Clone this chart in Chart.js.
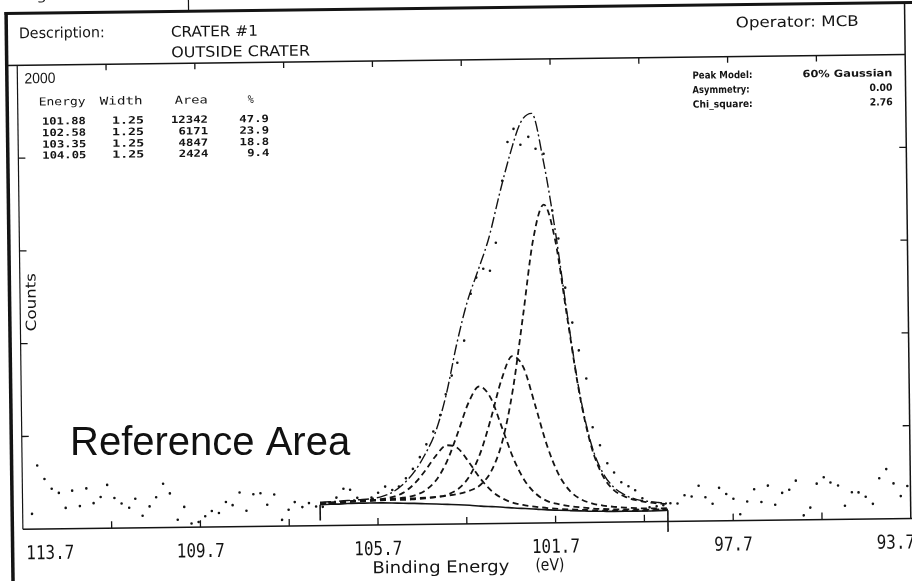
<!DOCTYPE html>
<html>
<head>
<meta charset="utf-8">
<script src="https://cdn.jsdelivr.net/npm/chart.js@4.4.1/dist/chart.umd.min.js"></script>
<style>
html, body { margin: 0; padding: 0; background: #fff; overflow: hidden; }
#wrap { width: 912px; height: 581px; }
</style>
</head>
<body>
<div id="wrap"><canvas id="xpsChart" width="912" height="581"></canvas></div>
<script>
// fitted curves on a shared energy grid (eV)
var energy = [107.00, 106.88, 106.63, 106.38, 106.13, 105.88, 105.63, 105.38, 105.13, 104.88,
  104.63, 104.38, 104.13, 103.88, 103.63, 103.38, 103.13, 102.88, 102.63, 102.38,
  102.13, 101.88, 101.63, 101.38, 101.13, 100.88, 100.63, 100.38, 100.13, 99.88,
  99.63, 99.38, 99.17];
var background = [90, 91, 92, 94, 95, 95, 95, 94, 92, 91, 89, 87, 85, 83, 80, 76, 73, 70, 66, 63,
  60, 56, 54, 52, 50, 48, 47, 46, 46, 46, 46, 47, 48];
var peak1 = [98, 99, 101, 104, 106, 107, 109, 110, 111, 113, 115, 118, 123, 130, 143, 168, 228, 352, 573, 891,
  1221, 1372, 1215, 880, 557, 330, 202, 138, 109, 93, 84, 78, 75];
var peak2 = [95, 96, 98, 101, 103, 104, 106, 107, 107, 109, 112, 117, 127, 152, 205, 303, 452, 620, 721, 670,
  509, 338, 213, 139, 101, 82, 72, 66, 62, 59, 57, 57, 57];
var peak3 = [96, 97, 99, 102, 105, 107, 109, 112, 116, 125, 146, 190, 271, 392, 522, 592, 542, 412, 278, 182,
  125, 94, 80, 71, 65, 60, 57, 55, 54, 53, 52, 52, 52];
var peak4 = [94, 96, 98, 101, 104, 106, 111, 119, 137, 174, 230, 295, 340, 326, 264, 194, 140, 107, 87, 77,
  70, 64, 60, 57, 55, 52, 50, 49, 49, 48, 48, 49, 50];
var envelope = [101, 102, 104, 107, 110, 113, 121, 139, 173, 225, 299, 398, 558, 775, 957, 1091, 1229, 1416, 1589, 1727,
  1766, 1563, 1260, 895, 565, 340, 215, 150, 116, 97, 88, 82, 78];

// end markers of the background region
var limitEnergy = [107.00, 99.17];
var limitLow = [22, -45];

// measured spectrum (dots)
var rawEnergy = [113.49, 113.36, 113.20, 113.04, 112.88, 112.73, 112.58, 112.41, 112.26, 112.10,
  111.94, 111.79, 111.63, 111.47, 111.30, 111.16, 111.00, 110.84, 110.69, 110.53,
  110.38, 110.21, 110.06, 109.90, 109.74, 109.59, 109.44, 109.28, 109.12, 108.97,
  108.81, 108.66, 108.50, 108.34, 108.19, 108.03, 107.86, 107.71, 107.57, 107.40,
  107.25, 107.09,
  106.94, 106.79, 106.63, 106.47, 106.32, 106.16, 106.00, 105.84, 105.69, 105.53,
  105.37, 105.22, 105.06, 104.90, 104.74, 104.59, 104.43, 104.27, 104.14, 104.00,
  103.87, 103.71, 103.55, 103.42, 103.26, 103.11, 102.97, 102.81, 102.68, 102.54,
  102.39, 102.21, 102.05, 101.87, 101.69, 101.56, 101.42, 101.27, 101.13, 100.97,
  100.84, 100.68, 100.52, 100.37, 100.21, 100.05, 99.90, 99.74, 99.58, 99.42,
  99.27, 99.11,
  98.95, 98.79, 98.63, 98.47, 98.32, 98.16, 98.01, 97.85, 97.69, 97.54,
  97.38, 97.22, 97.06, 96.91, 96.75, 96.59, 96.43, 96.28, 96.11, 95.96,
  95.81, 95.65, 95.50, 95.33, 95.18, 95.02, 94.87, 94.71, 94.55, 94.40,
  94.24, 94.08, 93.92, 93.77];
var rawCounts = [66, 274, 216, 173, 155, 90, 164, 97, 173, 109,
  135, 187, 130, 106, 87, 126, 52, 92, 131, 189,
  147, 33, 88, 16, 22, 47, 69, 60, 107, 93,
  147, 68, 139, 143, 93, 137, 27, 70, 103, 81,
  98, 83,
  81, 98, 120, 158, 153, 118, 105, 118, 139, 165,
  150, 165, 200, 240, 290, 345, 400, 470, 560, 640,
  695, 790, 992, 1061, 1099, 1090, 1210, 1477, 1644, 1700,
  1631, 1665, 1613, 1591, 1346, 1225, 1013, 862, 742, 620,
  410, 332, 254, 214, 171, 154, 136, 101, 62, 66,
  70, 78,
  77, 112, 106, 152, 102, 74, 142, 115, 94, 27,
  82, 134, 79, 149, 66, 117, 130, 169, 19, 52,
  155, 182, 159, 146, 58, 116, 115, 96, 65, 175,
  214, 152, 97, 140];

// fit table
var fitEnergy = ['101.88', '102.58', '103.35', '104.05'];
var fitWidth = ['1.25', '1.25', '1.25', '1.25'];
var fitArea = ['12342', '6171', '4847', '2424'];
var fitPercent = ['47.9', '23.9', '18.8', '9.4'];

// axes
var xLabelValues = [113.7, 109.7, 105.7, 101.7, 97.7, 93.7];
var xTickValues = [111.7, 109.7, 107.7, 105.7, 103.7, 101.7, 99.7, 97.7, 95.7];
var yTickValues = [400, 800, 1200, 1600];

var ink = '#141414';
var tilt = -0.7 * Math.PI / 180;

function pts(xs, ys) {
  return xs.map(function (x, i) { return { x: x, y: ys[i] }; });
}

function line(ctx, x1, y1, x2, y2, w) {
  ctx.beginPath();
  ctx.lineWidth = w || 1.2;
  ctx.moveTo(x1, y1);
  ctx.lineTo(x2, y2);
  ctx.stroke();
}

// text helper: optional target width squeezes / stretches the glyphs
function label(ctx, s, x, y, font, align, w, sy) {
  ctx.save();
  ctx.font = font;
  var sx = 1;
  if (w) sx = w / ctx.measureText(s).width;
  ctx.translate(x, y);
  ctx.scale(sx, sy || 1);
  ctx.textAlign = align || 'left';
  ctx.textBaseline = 'middle';
  ctx.fillStyle = ink;
  ctx.fillText(s, 0, 0);
  ctx.restore();
}

function drawFrame(chart) {
  var ctx = chart.ctx, a = chart.chartArea;
  var xs = chart.scales.x, ys = chart.scales.y;
  ctx.strokeStyle = ink;
  line(ctx, 8, 8, 930, 8, 3);
  line(ctx, 9.5, 6.5, 9.5, 600, 3.5);
  line(ctx, 192, -5, 192, 8, 1.2);
  line(ctx, a.right, 8, a.right, a.bottom, 1.5);
  line(ctx, 9, a.top, a.right, a.top, 1.5);
  line(ctx, a.left, a.top, a.left, a.bottom, 1.2);
  line(ctx, a.left, a.bottom, 930, a.bottom, 1.6);
  xTickValues.forEach(function (v) {
    var px = xs.getPixelForValue(v);
    line(ctx, px, a.bottom, px, a.bottom - 7, 1.3);
    line(ctx, px, a.top, px, a.top + 6, 1.3);
  });
  yTickValues.forEach(function (v) {
    var py = ys.getPixelForValue(v);
    line(ctx, a.left, py, a.left + 7, py, 1.3);
    line(ctx, a.right, py, a.right - 7, py, 1.3);
  });
}

function drawTexts(chart) {
  var ctx = chart.ctx, a = chart.chartArea, xs = chart.scales.x;
  var sans = '"DejaVu Sans"', mono = '"DejaVu Sans Mono"';

  label(ctx, 'Region:', 20, -9, '14px ' + sans, 'left', 60);
  label(ctx, 'Description:', 22, 29, '14px ' + sans, 'left', 86, 1.05);
  label(ctx, 'CRATER #1', 174, 29.5, '14px ' + sans, 'left', 87, 1.05);
  label(ctx, 'OUTSIDE CRATER', 174, 50, '14px ' + sans, 'left', 139, 1.05);
  label(ctx, 'Operator: MCB', 739, 27, '14px ' + sans, 'left', 123, 1.05);

  label(ctx, '2000', 27, 74, '15px "Liberation Sans"', 'left', 31);
  var head = '11px ' + mono;
  label(ctx, 'Energy', 41, 97.5, head, 'left', 47);
  label(ctx, 'Width', 102, 97.5, head, 'left', 43);
  label(ctx, 'Area', 177, 97.5, head, 'left', 33);
  label(ctx, '%', 250, 97.5, head, 'left', 6);
  var rowY = [117, 128.5, 140, 151];
  var cell = 'bold 10px ' + mono;
  for (var i = 0; i < fitEnergy.length; i++) {
    label(ctx, fitEnergy[i], 88, rowY[i], cell, 'right', 44);
    label(ctx, fitWidth[i], 146, rowY[i], cell, 'right', 32);
    label(ctx, fitArea[i], 210, rowY[i], cell, 'right', fitArea[i].length * 7.4);
    label(ctx, fitPercent[i], 271, rowY[i], cell, 'right', fitPercent[i].length * 7.4);
  }

  var info = 'bold 10px ' + sans;
  label(ctx, 'Peak Model:', 695, 79, info, 'left', 60);
  label(ctx, '60% Gaussian', 895, 79, info, 'right', 90);
  label(ctx, 'Asymmetry:', 695, 93.5, info, 'left', 57);
  label(ctx, '0.00', 895, 93.5, info, 'right', 23);
  label(ctx, 'Chi_square:', 695, 108, info, 'left', 60);
  label(ctx, '2.76', 895, 108, info, 'right', 23);

  // x tick labels, kept inside the frame at the two ends
  var tickFont = '16px ' + mono;
  ctx.font = tickFont;
  xLabelValues.forEach(function (v) {
    var s = v.toFixed(1);
    var w = ctx.measureText(s).width;
    var px = xs.getPixelForValue(v);
    px = Math.max(px, a.left + 3 + w / 2);
    px = Math.min(px, chart.width - w / 2);
    label(ctx, s, px, 549, tickFont, 'center', null, 1.2);
  });
  label(ctx, 'Binding Energy', 369, 568, '15px ' + sans, 'left', 137, 1.1);
  label(ctx, '(eV)', 532, 567, '15px ' + sans, 'left', 29, 1.1);

  ctx.save();
  ctx.translate(32, 297);
  ctx.rotate(-Math.PI / 2);
  label(ctx, 'Counts', 0, 0, '14px ' + sans, 'center', 58);
  ctx.restore();
}

var scanPlugin = {
  id: 'scan',
  beforeDraw: function (chart) {
    var ctx = chart.ctx;
    ctx.save();
    ctx.fillStyle = '#fff';
    ctx.fillRect(0, 0, chart.width, chart.height);
    ctx.translate(chart.width / 2, chart.height / 2);
    ctx.rotate(tilt);
    ctx.translate(-chart.width / 2, -chart.height / 2);
    drawFrame(chart);
  },
  afterDraw: function (chart) {
    var ctx = chart.ctx;
    drawTexts(chart);
    ctx.restore();
    // annotation added on top of the scan, not tilted
    ctx.save();
    ctx.font = '40px "Liberation Sans"';
    ctx.fillStyle = '#111';
    ctx.textBaseline = 'alphabetic';
    ctx.fillText('Reference Area', 70, 455);
    ctx.restore();
  }
};

var dashed = [6, 4];
function peakSet(data) {
  return {
    data: pts(energy, data), borderColor: ink, borderWidth: 1.8, borderDash: dashed,
    pointRadius: 0, fill: false, cubicInterpolationMode: 'monotone'
  };
}

var ctx = document.getElementById('xpsChart').getContext('2d');
var xpsChart = new Chart(ctx, {
  type: 'line',
  data: {
    datasets: [
      {
        data: pts(rawEnergy, rawCounts), showLine: false, pointRadius: 1.3,
        pointBackgroundColor: ink, pointBorderWidth: 0
      },
      {
        data: pts(energy, envelope), borderColor: ink, borderWidth: 1.4,
        borderDash: [11, 3, 2, 3], pointRadius: 0, fill: false, cubicInterpolationMode: 'monotone'
      },
      peakSet(peak1),
      peakSet(peak2),
      peakSet(peak3),
      peakSet(peak4),
      {
        data: pts(energy, background), borderColor: ink, borderWidth: 1.6,
        pointRadius: 0, fill: false, cubicInterpolationMode: 'monotone'
      },
      {
        data: pts([limitEnergy[0], limitEnergy[0]], [limitLow[0], background[0]]),
        borderColor: ink, borderWidth: 1.6, pointRadius: 0, clip: 30
      },
      {
        data: pts([limitEnergy[1], limitEnergy[1]], [limitLow[1], background[background.length - 1]]),
        borderColor: ink, borderWidth: 1.6, pointRadius: 0, clip: 30
      }
    ]
  },
  options: {
    responsive: false,
    animation: false,
    layout: { padding: { left: 20, right: 1, top: 60, bottom: 57 } },
    plugins: { legend: { display: false }, tooltip: { enabled: false } },
    scales: {
      x: { type: 'linear', min: 93.7, max: 113.7, reverse: true, display: false },
      y: { type: 'linear', min: 0, max: 2000, display: false }
    }
  },
  plugins: [scanPlugin]
});
</script>
</body>
</html>
